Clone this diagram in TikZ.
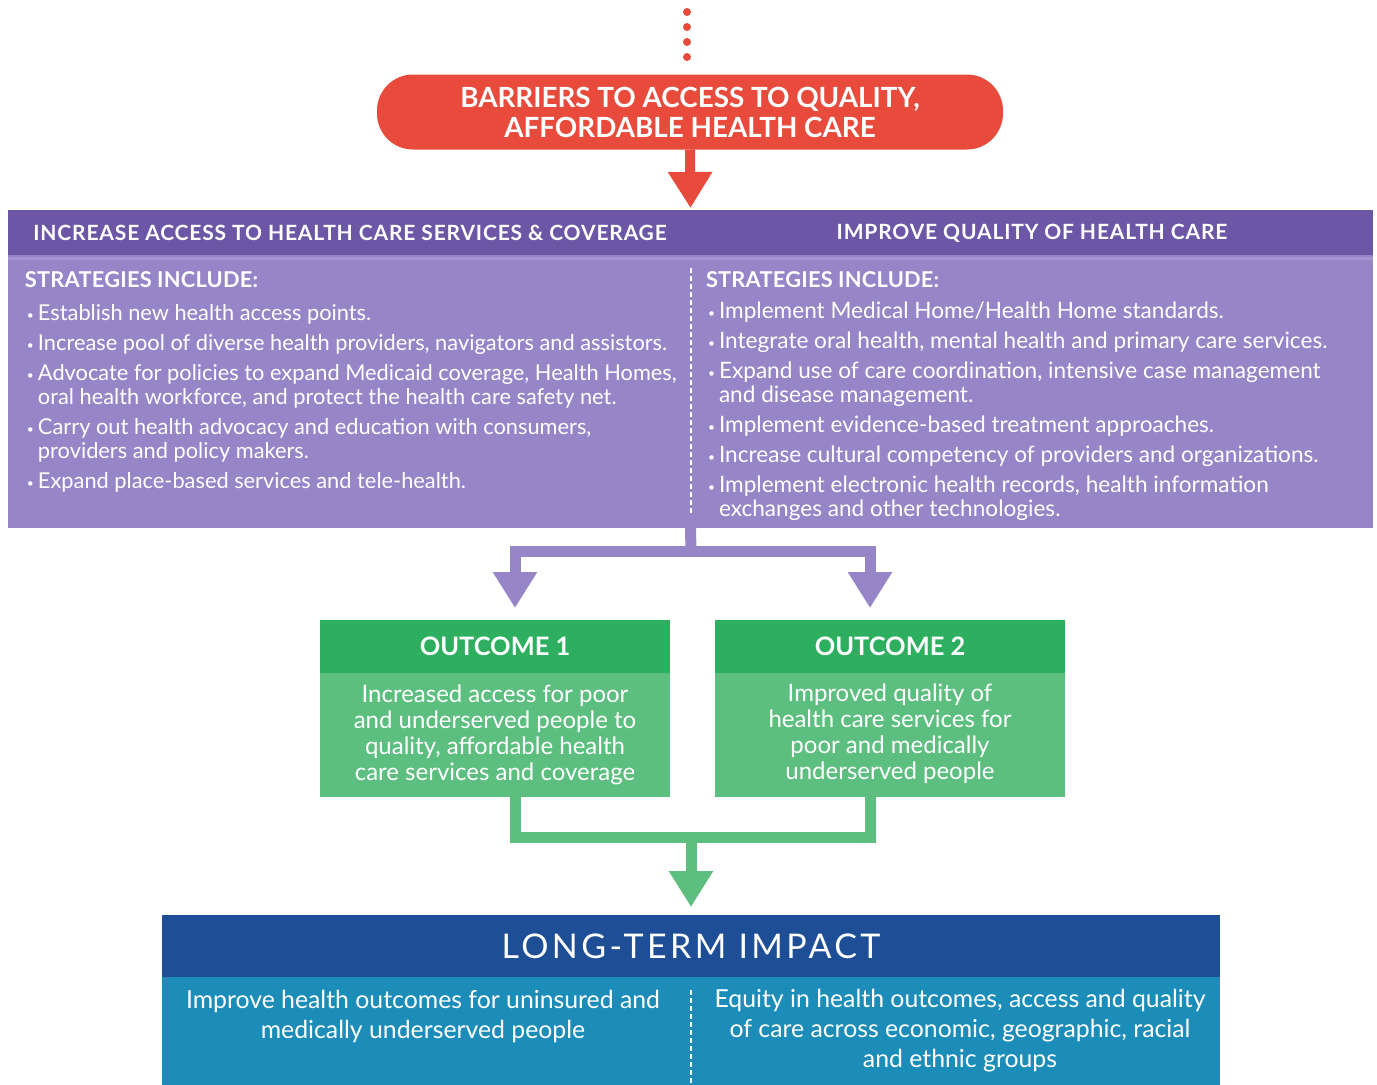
\documentclass[tikz,border=0pt]{standalone}
\usepackage{fontspec}
\setmainfont{Lato}
\usetikzlibrary{arrows.meta,positioning}

\definecolor{barrierred}{HTML}{E84A3B}
\definecolor{stratdark}{HTML}{6C57A6}
\definecolor{stratlight}{HTML}{9686C8}
\definecolor{stratstrip}{HTML}{A295D0}
\definecolor{outdark}{HTML}{2DAF5F}
\definecolor{outlight}{HTML}{5DBF7F}
\definecolor{impactdark}{HTML}{1E4E96}
\definecolor{impactlight}{HTML}{1C8DB9}

\newcommand{\bul}{\makebox[6.5pt][l]{\hspace{1pt}\raisebox{0.5pt}{\fontsize{6}{6}\selectfont\textbullet}}}
\newcommand{\ind}{\makebox[6.5pt]{}}

\tikzset{
  box/.style={inner sep=0pt, outer sep=0pt},
  dot/.style={circle, fill=barrierred, inner sep=0pt, minimum size=4pt},
  pill/.style={box, fill=barrierred, rounded corners=18pt, minimum width=313pt, minimum height=37.5pt,
    align=center, text=white, font=\fontsize{13.9}{15}\selectfont\bfseries},
  headtext/.style={box, text=white, font=\fontsize{10.5}{12}\selectfont\bfseries\addfontfeature{LetterSpace=4}},
  listtext/.style={box, text=white, align=left, font=\fontsize{10.9}{12}\selectfont},
  outhead/.style={box, fill=outdark, minimum width=175pt, minimum height=26.5pt, text=white,
    font=\fontsize{12.7}{14}\selectfont\bfseries},
  outbody/.style={box, fill=outlight, minimum width=175pt, minimum height=62pt, text=white,
    align=center, font=\fontsize{12}{13}\selectfont},
  impacttext/.style={box, text=white, align=center, font=\fontsize{12.4}{15}\selectfont},
  divider/.style={white, line width=1pt, dash pattern=on 2.5pt off 1.5pt},
  redlink/.style={barrierred, line width=5pt, -{Triangle[width=21pt,length=18pt]}},
  purplelink/.style={stratlight, line width=5.5pt, line join=miter},
  greenlink/.style={outlight, line width=5.5pt, line join=miter},
  tip/.style={-{Triangle[width=21pt,length=18pt]}}
}

\begin{document}
\begin{tikzpicture}[x=0.5pt, y=-0.5pt]
    \useasboundingbox (0,0) rectangle (1377,1084);
    %Dots
    \foreach \y [count=\i] in {12,27,42,57}
      \node[dot] (dot\i) at (687,\y) {};
    %Barriers
    \node[pill] (barrier) at (690,112) {BARRIERS TO ACCESS TO QUALITY,\\AFFORDABLE HEALTH CARE};
    %Strategies
    \node[box, fill=stratdark, minimum width=682.5pt, minimum height=22.5pt] (strathead) at (690.5,232.5) {};
    \node[box, fill=stratlight, minimum width=682.5pt, minimum height=136.5pt, below=0pt of strathead] (stratbody) {};
    \draw[stratstrip, line width=1.5pt] ([yshift=-1.5pt]stratbody.north west) -- ([yshift=-1.5pt]stratbody.north east);
    \node[headtext] (accesshead) at (350,233) {INCREASE ACCESS TO HEALTH CARE SERVICES \& COVERAGE};
    \node[headtext] (qualityhead) at (1032,233) {IMPROVE QUALITY OF HEALTH CARE};
    \draw[divider] ([yshift=-6.5pt]stratbody.north) -- ([yshift=6.5pt]stratbody.south);
    \draw[redlink] (barrier.south) -- ([yshift=1pt]strathead.north);
    \node[listtext, anchor=north west] (accesslist) at (25,272) {%
      {\bfseries\addfontfeature{LetterSpace=1} STRATEGIES INCLUDE:}\\[4.5pt]
      \bul Establish new health access points.\\[3pt]
      \bul Increase pool of diverse health providers, navigators and assistors.\\[3pt]
      \bul Advocate for policies to expand Medicaid coverage, Health Homes,\\
      \ind oral health workforce, and protect the health care safety net.\\[3pt]
      \bul Carry out health advocacy and education with consumers,\\
      \ind providers and policy makers.\\[3pt]
      \bul Expand place-based services and tele-health.};
    \node[listtext, anchor=north west, font=\fontsize{11.3}{12}\selectfont] (qualitylist) at (706,272) {%
      {\bfseries\fontsize{10.9}{12}\selectfont\addfontfeature{LetterSpace=1} STRATEGIES INCLUDE:}\\[3.5pt]
      \bul Implement Medical Home/Health Home standards.\\[3pt]
      \bul Integrate oral health, mental health and primary care services.\\[3pt]
      \bul Expand use of care coordination, intensive case management\\
      \ind and disease management.\\[3pt]
      \bul Implement evidence-based treatment approaches.\\[3pt]
      \bul Increase cultural competency of providers and organizations.\\[3pt]
      \bul Implement electronic health records, health information\\
      \ind exchanges and other technologies.};
    %Outcomes
    \node[outhead] (out1head) at (495,646.5) {OUTCOME 1};
    \node[outbody, below=0pt of out1head] (out1body) {Increased access for poor\\and underserved people to\\quality, affordable health\\care services and coverage};
    \node[outhead] (out2head) at (890,646.5) {OUTCOME 2};
    \node[outbody, below=0pt of out2head, text depth=3pt] (out2body) {Improved quality of\\health care services for\\poor and medically\\underserved people};
    %Split
    \coordinate (split) at (691,551);
    \draw[purplelink] (stratbody.south) -- (split);
    \draw[purplelink, tip] (split) -| ([xshift=10pt,yshift=6pt]out1head.north);
    \draw[purplelink, tip] (split) -| ([xshift=-10pt,yshift=6pt]out2head.north);
    %Long-term impact
    \node[box, fill=impactdark, minimum width=529pt, minimum height=31pt, text=white,
      font=\fontsize{17}{18}\selectfont\addfontfeature{LetterSpace=10}] (impacthead) at (691,946) {LONG-TERM IMPACT};
    \node[box, fill=impactlight, minimum width=529pt, minimum height=54pt, below=0pt of impacthead] (impactbody) {};
    \node[impacttext] (healthgoal) at (423,1016) {Improve health outcomes for uninsured and\\medically underserved people};
    \node[impacttext] (equitygoal) at (960,1031) {Equity in health outcomes, access and quality\\of care across economic, geographic, racial\\and ethnic groups};
    \draw[divider] ([yshift=-6.5pt]impactbody.north) -- (impactbody.south);
    %Merge
    \coordinate (merge) at (691,837.5);
    \draw[greenlink] ([xshift=10pt]out1body.south) |- (merge);
    \draw[greenlink] ([xshift=-10pt]out2body.south) |- (merge);
    \draw[greenlink, tip] (merge) -- ([yshift=4pt]impacthead.north);
\end{tikzpicture}
\end{document}
